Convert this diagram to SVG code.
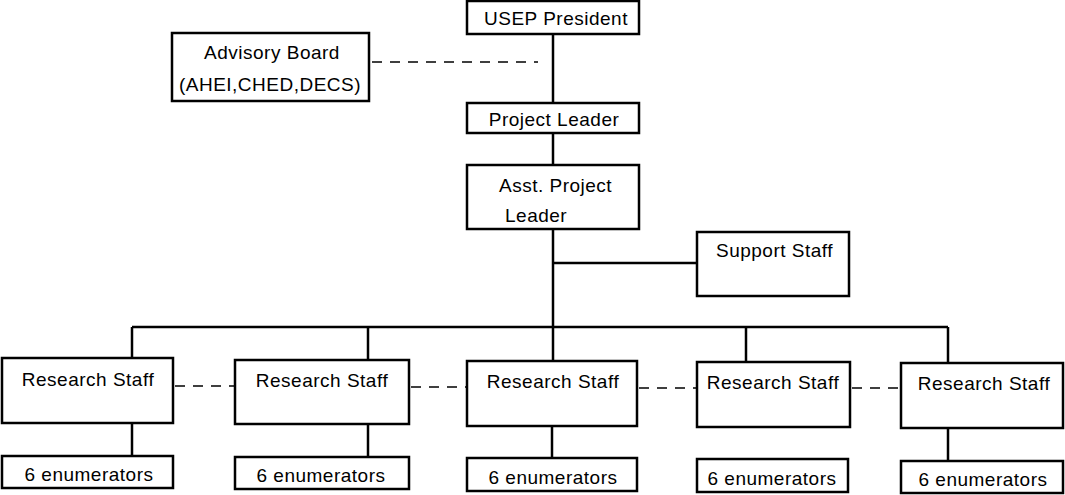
<svg xmlns="http://www.w3.org/2000/svg" width="1065" height="495" viewBox="0 0 1065 495">
<style>
.box{fill:#fff;stroke:#000;stroke-width:2.5}
.ln{stroke:#000;stroke-width:2.5;fill:none}
.dash{stroke:#000;stroke-width:1.4;stroke-dasharray:10 8;fill:none}
text{font-family:"Liberation Sans",Arial,sans-serif;font-size:19px;fill:#000;letter-spacing:0.5px}
.c{text-anchor:middle}
</style>
<rect width="1065" height="495" fill="#fff"/>
<g id="connectors">
<line class="ln" x1="553" y1="34" x2="553" y2="103"/>
<line class="dash" x1="372" y1="62" x2="538" y2="62"/>
<line class="ln" x1="553" y1="133" x2="553" y2="165"/>
<line class="ln" x1="553" y1="229" x2="553" y2="361"/>
<line class="ln" x1="553" y1="263" x2="697" y2="263"/>
<line class="ln" x1="132" y1="327" x2="948" y2="327"/>
<line class="ln" x1="132" y1="327" x2="132" y2="358"/>
<line class="ln" x1="368" y1="327" x2="368" y2="360"/>
<line class="ln" x1="746" y1="327" x2="746" y2="362"/>
<line class="ln" x1="948" y1="327" x2="948" y2="363"/>
<line class="dash" x1="175" y1="386" x2="235" y2="386"/>
<line class="dash" x1="411" y1="387" x2="467" y2="387"/>
<line class="dash" x1="639" y1="388" x2="697" y2="388"/>
<line class="dash" x1="852" y1="388" x2="901" y2="388"/>
<line class="ln" x1="132" y1="423" x2="132" y2="456"/>
<line class="ln" x1="368" y1="424" x2="368" y2="457"/>
<line class="ln" x1="552" y1="426" x2="552" y2="458"/>
<line class="ln" x1="948" y1="428" x2="948" y2="461"/>
</g>
<g id="usep-president"><rect class="box" x="467" y="1" width="172" height="33"/><text class="c" x="556" y="25">USEP President</text></g>
<g id="advisory-board"><rect class="box" x="172" y="33" width="197" height="68"/><text class="c" x="272" y="59">Advisory Board</text><text class="c" x="270" y="91">(AHEI,CHED,DECS)</text></g>
<g id="project-leader"><rect class="box" x="467" y="103" width="172" height="30"/><text class="c" x="554" y="126">Project Leader</text></g>
<g id="asst-project-leader"><rect class="box" x="467" y="165" width="172" height="64"/><text x="499" y="192">Asst. Project</text><text x="505" y="222">Leader</text></g>
<g id="support-staff"><rect class="box" x="697" y="232" width="152" height="64"/><text x="716" y="257">Support Staff</text></g>
<g id="research-staff-1"><rect class="box" x="2" y="358" width="171" height="65"/><text class="c" x="88" y="386">Research Staff</text></g>
<g id="research-staff-2"><rect class="box" x="235" y="360" width="174" height="64"/><text class="c" x="322" y="387">Research Staff</text></g>
<g id="research-staff-3"><rect class="box" x="467" y="361" width="170" height="65"/><text class="c" x="553" y="388">Research Staff</text></g>
<g id="research-staff-4"><rect class="box" x="697" y="362" width="153" height="65"/><text class="c" x="773" y="389">Research Staff</text></g>
<g id="research-staff-5"><rect class="box" x="901" y="363" width="162" height="65"/><text class="c" x="984" y="390">Research Staff</text></g>
<g id="enumerators-1"><rect class="box" x="2" y="456" width="171" height="32"/><text class="c" x="89" y="481">6 enumerators</text></g>
<g id="enumerators-2"><rect class="box" x="235" y="457" width="174" height="32"/><text class="c" x="321" y="482">6 enumerators</text></g>
<g id="enumerators-3"><rect class="box" x="467" y="458" width="170" height="33"/><text class="c" x="553" y="484">6 enumerators</text></g>
<g id="enumerators-4"><rect class="box" x="697" y="459" width="151" height="33"/><text class="c" x="772" y="485">6 enumerators</text></g>
<g id="enumerators-5"><rect class="box" x="901" y="461" width="162" height="32"/><text class="c" x="983" y="486">6 enumerators</text></g>
</svg>
